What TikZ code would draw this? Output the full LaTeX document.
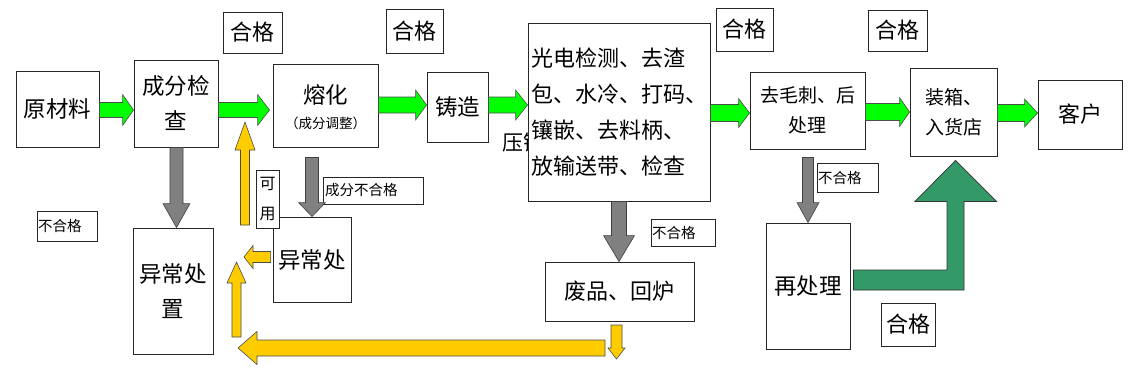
\documentclass[tikz,border=0pt]{standalone}
\usepackage{fontspec}
\newfontfamily\cjk{Noto Sans CJK SC}
\usetikzlibrary{calc}
\definecolor{agreen}{HTML}{00FF00}
\definecolor{ayellow}{HTML}{FFCC00}
\definecolor{agray}{HTML}{808080}
\definecolor{adkgreen}{HTML}{339966}
% right, left, down, up block arrows: style, from, to, body half, head half, head length
\newcommand\arrR[6]{\filldraw[#1] let \p1=(#2), \p2=(#3) in
  (\x1,\y1+#4) -- (\x2-#6,\y1+#4) -- (\x2-#6,\y1+#5) -- (\x2,\y1) -- (\x2-#6,\y1-#5) -- (\x2-#6,\y1-#4) -- (\x1,\y1-#4) -- cycle;}
\newcommand\arrL[6]{\filldraw[#1] let \p1=(#2), \p2=(#3) in
  (\x1,\y1+#4) -- (\x2+#6,\y1+#4) -- (\x2+#6,\y1+#5) -- (\x2,\y1) -- (\x2+#6,\y1-#5) -- (\x2+#6,\y1-#4) -- (\x1,\y1-#4) -- cycle;}
\newcommand\arrD[6]{\filldraw[#1] let \p1=(#2), \p2=(#3) in
  (\x1-#4,\y1) -- (\x1-#4,\y2+#6) -- (\x1-#5,\y2+#6) -- (\x1,\y2) -- (\x1+#5,\y2+#6) -- (\x1+#4,\y2+#6) -- (\x1+#4,\y1) -- cycle;}
\newcommand\arrU[6]{\filldraw[#1] let \p1=(#2), \p2=(#3) in
  (\x1-#4,\y1) -- (\x1-#4,\y2-#6) -- (\x1-#5,\y2-#6) -- (\x1,\y2) -- (\x1+#5,\y2-#6) -- (\x1+#4,\y2-#6) -- (\x1+#4,\y1) -- cycle;}
\begin{document}
\begin{tikzpicture}[x=1pt,y=-1pt,
  box/.style={draw=black!85, line width=0.9pt, fill=white, inner sep=0pt, align=center,
    font=\cjk\fontsize{22.5}{35}\selectfont},
  oklbl/.style={draw=black!85, line width=0.8pt, fill=white, inner sep=0pt,
    font=\cjk\fontsize{22}{26}\selectfont},
  nglbl/.style={draw=black!85, line width=0.8pt, fill=white, inner xsep=1pt, inner ysep=0pt,
    align=left, font=\cjk\fontsize{14.5}{17}\selectfont},
  garrow/.style={fill=agreen, draw=black!70, line width=0.6pt},
  yarrow/.style={fill=ayellow, draw=black!70, line width=0.6pt},
  grarrow/.style={fill=agray, draw=black!75, line width=0.6pt},
  dgarrow/.style={fill=adkgreen, draw=black!80, line width=0.7pt}]
\useasboundingbox (0,0) rectangle (1145,389);
\fill[white] (0,0) rectangle (1145,389);

% text partly hidden by the big box
\begin{scope}
\clip (490,120) rectangle (527,165);
\node[anchor=west, inner sep=0pt, font=\cjk\fontsize{21}{24}\selectfont] (press) at (502,143) {压铸};
\end{scope}

% main boxes
\node[box, minimum width=83pt, minimum height=76pt] (raw) at (57.5,109) {原材料};
\node[box, minimum width=84pt, minimum height=87pt] (comp) at (176,103.5) {成分检\\查};
\node[box, minimum width=105pt, minimum height=83pt] (melt) at (325.5,105.5) {};
\node[inner sep=0pt, font=\cjk\fontsize{22.5}{26}\selectfont] (meltt) at ($(melt.center)+(0,-10.5)$) {熔化};
\node[inner sep=0pt, font=\cjk\fontsize{13.5}{16}\selectfont] (meltsub) at ($(melt.center)+(0,17.5)$) {（成分调整）};
\node[box, minimum width=61pt, minimum height=70pt] (cast) at (457.5,107) {铸造};
\node[box, minimum height=178pt, text width=176pt, inner xsep=3pt, align=left,
  font=\cjk\fontsize{22}{36}\selectfont] (big) at (619,112)
  {光电检测、去渣\\包、水冷、打码、\\镶嵌、去料柄、\\放输送带、检查};
\node[box, minimum width=115pt, minimum height=77pt, font=\cjk\fontsize{19}{30}\selectfont] (deburr) at (807.5,110.5) {去毛刺、后\\处理};
\node[box, minimum width=87pt, minimum height=88pt, font=\cjk\fontsize{19}{30}\selectfont] (pack) at (953.5,112) {装箱、\\入货店};
\node[box, minimum width=84pt, minimum height=69pt, font=\cjk\fontsize{22}{26}\selectfont] (cust) at (1080,114.5) {客户};
\node[box, minimum width=80pt, minimum height=126pt] (abn1) at (173,291) {异常处\\置};
\node[box, minimum width=78pt, minimum height=85pt] (abn2) at (312,259.5) {异常处};
\node[box, minimum width=149pt, minimum height=59pt, font=\cjk\fontsize{22}{26}\selectfont] (scrap) at (619.5,291.5) {废品、回炉};
\node[box, minimum width=84pt, minimum height=126pt] (reproc) at (808,286) {再处理};

% labels
\node[oklbl, minimum width=59pt, minimum height=41pt] (ok1) at (252.5,32.5) {合格};
\node[oklbl, minimum width=57pt, minimum height=44pt] (ok2) at (414.5,31) {合格};
\node[oklbl, minimum width=57pt, minimum height=43pt] (ok3) at (744.5,29.5) {合格};
\node[oklbl, minimum width=59pt, minimum height=41pt] (ok4) at (897.5,30.5) {合格};
\node[oklbl, minimum width=54pt, minimum height=43pt] (ok5) at (908,324.5) {合格};
\node[nglbl, text width=58pt, minimum height=30pt] (ng1) at (67,226) {不合格};
\node[nglbl, text width=62pt, minimum height=27pt] (ng2) at (683,232.5) {不合格};
\node[nglbl, text width=59pt, minimum height=29pt] (ng3) at (847.5,177.5) {不合格};
\node[nglbl, text width=96pt, minimum height=27pt, inner xsep=2pt] (ngc) at (373,190.5) {成分不合格};
\node[draw=black!85, line width=0.8pt, fill=white, inner sep=0pt, minimum width=23pt, minimum height=58pt,
  align=center, font=\cjk\fontsize{16}{30}\selectfont] (usable) at (267.5,199) {可\\用};

% green flow arrows
\arrR{garrow}{raw.east |- 0,110}{comp.west}{7.5pt}{15.5pt}{11pt}
\arrR{garrow}{comp.east |- 0,110}{$(melt.west)+(-3,0)$}{7.5pt}{15.5pt}{12pt}
\arrR{garrow}{melt.east |- 0,105}{cast.west}{8pt}{15pt}{11pt}
\arrR{garrow}{cast.east |- 0,105}{big.west}{8pt}{15pt}{12pt}
\arrR{garrow}{big.east |- 0,113}{deburr.west}{8.5pt}{14.5pt}{11pt}
\arrR{garrow}{deburr.east |- 0,112}{pack.west}{8.5pt}{14.5pt}{10pt}
\arrR{garrow}{pack.east |- 0,113}{cust.west}{8.5pt}{14pt}{13pt}

% gray reject arrows
\coordinate (d2s) at ($(abn2.north |- melt.south)+(0,10)$);
\coordinate (d4s) at ($(reproc.north |- deburr.south)+(0,8)$);
\arrD{grarrow}{comp.south -| 176.5,0}{abn1.north}{6.5pt}{13.5pt}{24pt}
\arrD{grarrow}{d2s}{abn2.north}{6.5pt}{13.5pt}{14pt}
\arrD{grarrow}{big.south}{scrap.north}{7.5pt}{15.5pt}{26pt}
\arrD{grarrow}{d4s}{reproc.north}{5.5pt}{11pt}{20pt}

% yellow return arrows
\coordinate (y1s) at (245,225);
\coordinate (y1e) at (245,122);
\coordinate (y2e) at (244,257);
\coordinate (y3s) at (236.5,337);
\coordinate (y3e) at (236.5,262);
\coordinate (y4s) at (605,348);
\coordinate (y4e) at (238,348);
\coordinate (y5s) at (616.5,325);
\coordinate (y5e) at (616.5,359);
\arrU{yarrow}{y1s}{y1e}{4.5pt}{10pt}{28pt}
\arrL{yarrow}{$(abn2.west |- 0,257)+(-2,0)$}{y2e}{5.5pt}{11.5pt}{9pt}
\arrU{yarrow}{y3s}{y3e}{4.5pt}{9.5pt}{21pt}
\arrL{yarrow}{y4s}{y4e}{8pt}{16.5pt}{19pt}
\arrD{yarrow}{y5s}{y5e}{5.5pt}{8.5pt}{11pt}

% dark green return arrow to packing
\coordinate (lg1) at ($(reproc.east |- 0,270)+(3,0)$);
\coordinate (lgt) at ($(pack.south)+(2,4)$);
\filldraw[dgarrow] let \p1=(lg1), \p2=(lgt) in
  (\x1,\y1) -- (\x2-8.5pt,\y1) -- (\x2-8.5pt,\y2-41pt) -- (\x2-40.5pt,\y2-41pt) -- (\x2,\y2)
  -- (\x2+41pt,\y2-41pt) -- (\x2+8.5pt,\y2-41pt) -- (\x2+8.5pt,\y1-20pt) -- (\x1,\y1-20pt) -- cycle;
\end{tikzpicture}
\end{document}
